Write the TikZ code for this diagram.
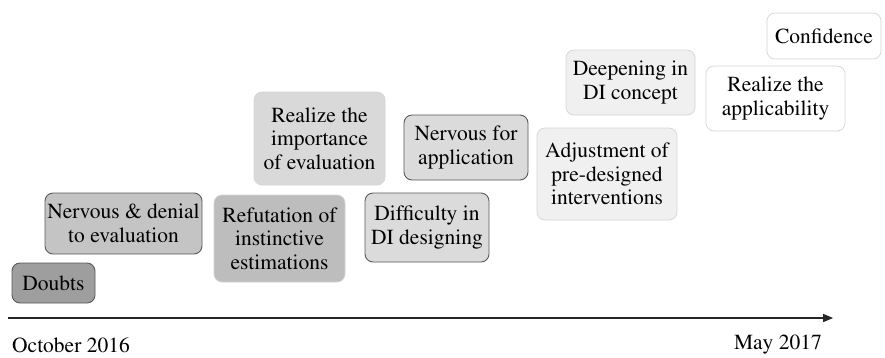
\documentclass[tikz,border=0pt]{standalone}
\usepackage[T1]{fontenc}
\usepackage{mathptmx}
\usepackage{xcolor}
\usetikzlibrary{arrows,shapes,positioning}

\tikzset{
  stage/.style={rounded corners=8pt, line width=.9pt, align=center, inner sep=0pt,
    font=\fontsize{21.5}{23.5}\selectfont},
  darkb/.style={stage, draw=black!65},
  lightb/.style={stage, draw=black!17, line width=.7pt}
}

\begin{document}
\begin{tikzpicture}[x=1pt,y=-1pt]
\useasboundingbox (0,0) rectangle (885,357);

% first months
\node[darkb, fill=black!38, minimum width=83pt, minimum height=40pt] (n1) at (53.5,283) {Doubts};
\node[darkb, fill=black!23, minimum width=157pt, minimum height=61pt] (n2) at (123.5,223.5) {Nervous \& denial\\to evaluation};
\node[lightb, fill=black!26, minimum width=131pt, minimum height=87pt] (n3) at (279.5,238.5) {Refutation of\\instinctive\\estimations};
\node[lightb, fill=black!15, minimum width=131pt, minimum height=93pt] (n4) at (319.5,138.5) {Realize the\\importance\\of evaluation};

% middle
\node[darkb, fill=black!14, minimum width=124pt, minimum height=69pt] (n5) at (427,227.5) {Difficulty in\\DI designing};
\node[darkb, fill=black!14, minimum width=124pt, minimum height=65pt] (n6) at (466,147.5) {Nervous for\\application};
\node[lightb, fill=black!6, minimum width=140pt, minimum height=92pt] (n7) at (607,174) {Adjustment of\\pre-designed\\interventions};
\node[lightb, fill=black!6, minimum width=129pt, minimum height=65pt] (n8) at (630.5,82.5) {Deepening in\\DI concept};

% last months
\node[lightb, fill=white, minimum width=139pt, minimum height=65pt] (n9) at (775.5,98.5) {Realize the\\applicability};
\node[lightb, fill=white, minimum width=114pt, minimum height=46pt] (n10) at (824,36) {Confidence};

% time axis
\coordinate (t0) at (8,318);
\coordinate (t1) at (833,318);
\draw[line width=1.3pt, black!85, -triangle 45] (t0) -- (t1);
\node[font=\fontsize{21.5}{24}\selectfont, anchor=west, inner sep=0pt] (tstart) at (12,345) {October 2016};
\node[font=\fontsize{21.5}{24}\selectfont, anchor=east, inner sep=0pt] (tend) at (822,345) {May 2017};

\end{tikzpicture}
\end{document}
